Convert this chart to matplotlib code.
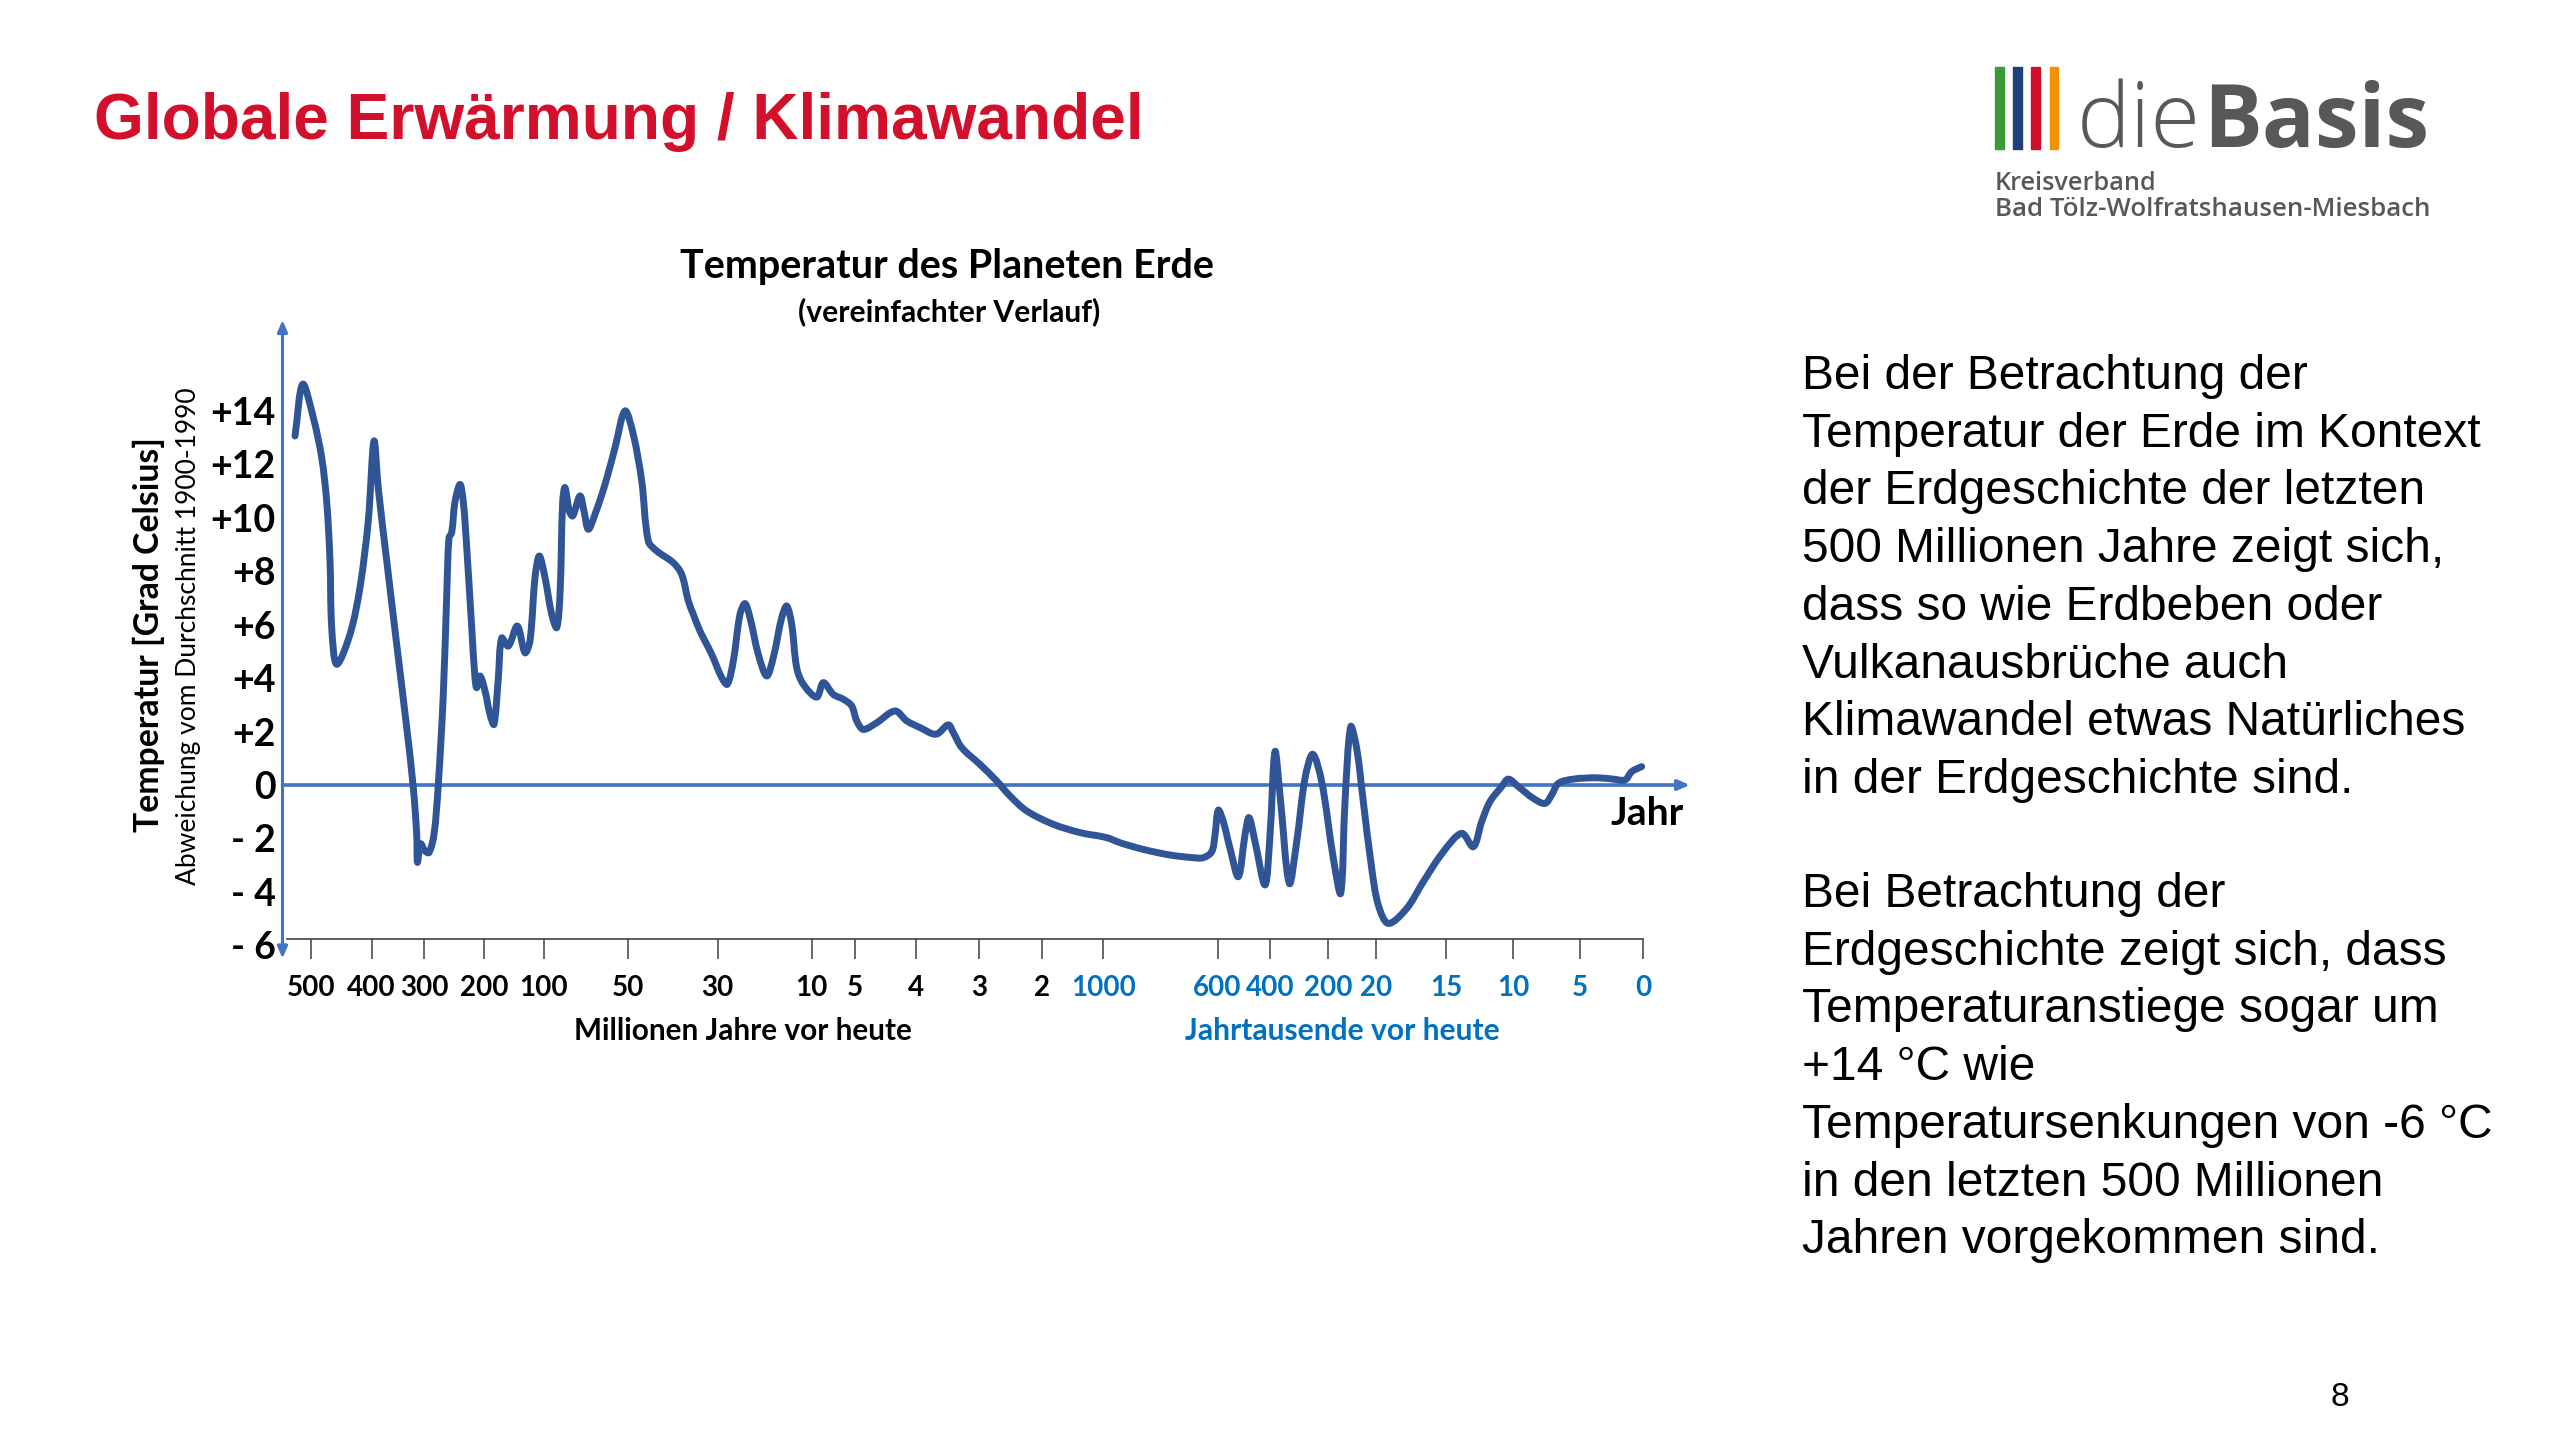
import matplotlib
matplotlib.use("Agg")
import numpy as np
import matplotlib.pyplot as plt
from matplotlib.patches import Rectangle, PathPatch
from matplotlib.path import Path

W, H, DPI = 2560, 1439, 100

# ---------------- data ----------------
# position along the (non-linear) time axis, and temperature deviation in degC
curve_pos = [295.0, 302.7, 313.3, 321.7, 326.7, 330.0, 331.7, 336.7, 350.0, 360.0,
             368.3, 374.0, 378.3, 386.7, 396.7, 406.7, 413.3, 416.7, 417.5, 420.5,
             425.0, 429.0, 434.0, 438.3, 443.3, 446.7, 449.0, 451.7, 455.0, 460.0,
             463.3, 466.7, 471.7, 475.0, 476.7, 480.0, 485.0, 490.0, 494.0, 498.3,
             501.7, 508.3, 517.3, 525.0, 530.0, 535.0, 539.3, 545.0, 551.7, 556.7,
             560.0, 562.7, 565.0, 569.3, 572.7, 580.0, 584.0, 588.3, 595.0, 605.0,
             615.0, 625.0, 633.3, 641.7, 648.3, 656.7, 673.3, 681.7, 688.3, 693.3,
             700.0, 711.7, 721.7, 727.3, 733.3, 740.0, 745.0, 750.0, 758.3, 766.7,
             773.3, 781.7, 786.7, 791.7, 796.7, 803.3, 816.7, 823.3, 833.3, 843.3,
             851.7, 856.7, 863.3, 876.7, 895.0, 906.7, 920.0, 936.0, 948.3, 953.3,
             961.7, 980.0, 996.7, 1010.0, 1026.7, 1053.3, 1080.0, 1106.7, 1120.0, 1143.3,
             1170.0, 1193.3, 1203.3, 1211.7, 1215.0, 1218.3, 1223.3, 1230.0, 1238.3, 1245.0,
             1249.0, 1255.0, 1265.0, 1270.0, 1275.0, 1280.0, 1289.3, 1296.7, 1305.0, 1312.7,
             1321.7, 1333.3, 1340.7, 1345.0, 1350.7, 1356.7, 1363.3, 1371.7, 1378.3, 1388.3,
             1406.7, 1423.3, 1443.3, 1461.7, 1473.3, 1481.7, 1490.0, 1501.7, 1508.3, 1518.3,
             1533.3, 1545.0, 1551.7, 1558.3, 1573.3, 1596.7, 1613.3, 1625.0, 1631.7, 1641.7]
curve_temp = [13.06, 15.0, 13.75, 12.25, 10.6, 8.4, 5.9, 4.52, 5.64, 7.4,
              9.9, 12.87, 11.1, 8.4, 5.26, 2.15, -0.1, -1.85, -2.9, -2.2,
              -2.47, -2.53, -1.85, 0.02, 3.4, 7.1, 9.25, 9.45, 10.6, 11.25,
              10.6, 8.9, 5.9, 4.0, 3.64, 4.08, 3.52, 2.64, 2.27, 4.0,
              5.5, 5.2, 5.95, 4.95, 5.4, 7.76, 8.57, 7.76, 6.39, 5.89,
              7.14, 10.63, 11.13, 10.25, 10.07, 10.82, 10.25, 9.57, 10.13, 11.25,
              12.62, 14.0, 13.12, 11.38, 9.13, 8.76, 8.32, 7.88, 6.89, 6.39,
              5.76, 4.89, 4.02, 3.77, 4.64, 6.39, 6.79, 6.26, 4.89, 4.08,
              4.77, 6.26, 6.7, 6.01, 4.39, 3.77, 3.29, 3.83, 3.39, 3.21,
              2.96, 2.4, 2.08, 2.33, 2.77, 2.4, 2.15, 1.9, 2.25, 1.96,
              1.4, 0.77, 0.15, -0.41, -0.97, -1.47, -1.78, -1.97, -2.16, -2.41,
              -2.62, -2.72, -2.72, -2.5, -1.87, -0.94, -1.37, -2.37, -3.43, -1.87,
              -1.22, -2.12, -3.74, -1.87, 1.25, -0.37, -3.68, -2.12, 0.25, 1.15,
              0.12, -2.74, -4.05, -0.62, 2.18, 1.37, -0.62, -3.12, -4.49, -5.18,
              -4.62, -3.62, -2.5, -1.81, -2.31, -1.37, -0.62, -0.06, 0.22, -0.06,
              -0.5, -0.69, -0.37, 0.06, 0.22, 0.27, 0.22, 0.19, 0.5, 0.69]

tick_pos = [310.7, 371.5, 424.3, 484.0, 543.7, 628.1, 717.7, 811.8, 854.9, 916.3,
            978.7, 1042.0, 1103.3, 1217.6, 1270.2, 1328.2, 1376.4, 1446.3, 1513.0, 1580.2,
            1643.1]
tick_labels = ["500", "400", "300", "200", "100", "50", "30", "10", "5", "4",
               "3", "2", "1000", "600", "400", "200", "20", "15", "10", "5", "0"]
tick_is_kyr = [False] * 12 + [True] * 9

y_values = [-6, -4, -2, 0, 2, 4, 6, 8, 10, 12, 14]
y_labels = ["- 6", "- 4", "- 2", "0", "+2", "+4", "+6", "+8", "+10", "+12", "+14"]

title = "Globale Erwärmung / Klimawandel"
chart_title = "Temperatur des Planeten Erde"
chart_subtitle = "(vereinfachter Verlauf)"
ylabel_main = "Temperatur [Grad Celsius]"
ylabel_sub = "Abweichung vom Durchschnitt 1900-1990"
xlabel_myr = "Millionen Jahre vor heute"
xlabel_kyr = "Jahrtausende vor heute"

body1 = ["Bei der Betrachtung der",
         "Temperatur der Erde im Kontext",
         "der Erdgeschichte der letzten",
         "500 Millionen Jahre zeigt sich,",
         "dass so wie Erdbeben oder",
         "Vulkanausbrüche auch",
         "Klimawandel etwas Natürliches",
         "in der Erdgeschichte sind."]
body2 = ["Bei Betrachtung der",
         "Erdgeschichte zeigt sich, dass",
         "Temperaturanstiege sogar um",
         "+14 °C wie",
         "Temperatursenkungen von -6 °C",
         "in den letzten 500 Millionen",
         "Jahren vorgekommen sind."]

# ---------------- styles ----------------
RED = "#D2102C"
CURVE = "#2F5597"
AXBLUE = "#4472C4"
LBLUE = "#0070C0"
GREY = "#58585A"

fig = plt.figure(figsize=(W / DPI, H / DPI), dpi=DPI)
fig.patch.set_facecolor("white")
renderer = fig.canvas.get_renderer()


def fx(px):
    return px / W


def fy(py):
    return 1 - py / H


def fit(t, target_w):
    rot = t.get_rotation()
    t.set_rotation(0)
    w = t.get_window_extent(renderer).width
    t.set_fontsize(t.get_fontsize() * target_w / w)
    t.set_rotation(rot)
    return t


# ---------------- axes ----------------
X0, X1 = 282.5, 1690.0
YTOP, YBOT = 320.0, 958.5
ZERO_PX, PX_PER_DEG = 785.0, 26.72
t_top = (ZERO_PX - YTOP) / PX_PER_DEG
t_bot = (ZERO_PX - YBOT) / PX_PER_DEG
base_t = (ZERO_PX - 938.5) / PX_PER_DEG

ax = fig.add_axes([fx(X0), fy(YBOT), (X1 - X0) / W, (YBOT - YTOP) / H])
ax.set_xlim(X0, X1)
ax.set_ylim(t_bot, t_top)
ax.patch.set_alpha(0)
for s in ["top", "right", "left"]:
    ax.spines[s].set_visible(False)
ax.spines["bottom"].set_position(("data", base_t))
ax.spines["bottom"].set_bounds(287, tick_pos[-1])
ax.spines["bottom"].set_color("#404040")
ax.spines["bottom"].set_linewidth(1.2)

ax.set_xticks(tick_pos, tick_labels)
ax.tick_params(axis="x", direction="out", length=14.5, width=1.1, color="#404040", pad=12)
for lab, kyr in zip(ax.get_xticklabels(), tick_is_kyr):
    lab.set_fontfamily("Lato")
    lab.set_fontweight("bold")
    lab.set_fontsize(20)
    lab.set_color(LBLUE if kyr else "black")

ax.set_yticks(y_values, y_labels)
ax.tick_params(axis="y", length=0, pad=5)
for lab in ax.get_yticklabels():
    lab.set_fontfamily("Lato")
    lab.set_fontweight("bold")
    lab.set_fontsize(27)
    lab.set_color("black")

# axis arrows
ax.annotate("", xy=(X0, t_top), xytext=(X0, t_bot),
            arrowprops=dict(arrowstyle="<|-|>,head_length=0.7,head_width=0.3",
                            color=AXBLUE, lw=2.2, shrinkA=0, shrinkB=0),
            annotation_clip=False)
ax.annotate("", xy=(X1, 0), xytext=(X0, 0),
            arrowprops=dict(arrowstyle="-|>,head_length=0.7,head_width=0.3",
                            color=AXBLUE, lw=2.6, shrinkA=0, shrinkB=0),
            annotation_clip=False)

# smooth curve through the read points (cubic Bezier segments, drawn in data coords)
P = np.column_stack([curve_pos, curve_temp]).astype(float)
scale = np.array([1.0, PX_PER_DEG])
seg = np.hypot(*(np.diff(P, axis=0) * scale).T)
n = len(P)
verts = [P[0]]
codes = [Path.MOVETO]
for i in range(n - 1):
    if i == 0:
        c1 = P[0] + (P[1] - P[0]) / 3
    else:
        c1 = P[i] + (P[i + 1] - P[i - 1]) * seg[i] / (3 * (seg[i - 1] + seg[i]))
    if i == n - 2:
        c2 = P[i + 1] - (P[i + 1] - P[i]) / 3
    else:
        c2 = P[i + 1] - (P[i + 2] - P[i]) * seg[i] / (3 * (seg[i] + seg[i + 1]))
    verts += [c1, c2, P[i + 1]]
    codes += [Path.CURVE4] * 3
ax.add_patch(PathPatch(Path(verts, codes), fill=False, edgecolor=CURVE, lw=5,
                       joinstyle="round", capstyle="round", clip_on=False, zorder=5))

# ---------------- texts ----------------
t = fig.text(fx(94), fy(139.5), title, fontfamily="Liberation Sans", fontweight="bold",
             color=RED, fontsize=46, ha="left", va="baseline")
fit(t, 1050)

t = fig.text(fx(947), fy(278), chart_title, fontfamily="Lato", fontweight="bold",
             color="black", fontsize=26, ha="center", va="baseline")
fit(t, 535)
t = fig.text(fx(949), fy(321), chart_subtitle, fontfamily="Lato", fontweight="bold",
             color="black", fontsize=18, ha="center", va="baseline")
fit(t, 302)

t = fig.text(fx(149), fy(635), ylabel_main, fontfamily="Lato", fontweight="bold",
             color="black", fontsize=22, ha="center", va="center", rotation=90)
fit(t, 395)
t = fig.text(fx(189), fy(636), ylabel_sub, fontfamily="Lato",
             color="black", fontsize=16, ha="center", va="center", rotation=90)
fit(t, 498)

t = fig.text(fx(1647), fy(825), "Jahr", fontfamily="Lato", fontweight="bold",
             color="black", fontsize=28, ha="center", va="baseline")
fit(t, 73)

t = fig.text(fx(743), fy(1040), xlabel_myr, fontfamily="Lato", fontweight="bold",
             color="black", fontsize=20, ha="center", va="baseline")
fit(t, 338)
t = fig.text(fx(1342), fy(1040), xlabel_kyr, fontfamily="Lato", fontweight="bold",
             color=LBLUE, fontsize=20, ha="center", va="baseline")
fit(t, 315)

# body text
probe = fig.text(0, 0, body1[1], fontfamily="Liberation Sans", fontsize=34)
fit(probe, 678)
body_fs = probe.get_fontsize()
probe.remove()
for i, line in enumerate(body1):
    fig.text(fx(1802), fy(389 + i * 57.7), line, fontfamily="Liberation Sans",
             fontsize=body_fs, color="black", ha="left", va="baseline")
for i, line in enumerate(body2):
    fig.text(fx(1802), fy(907 + i * 57.7), line, fontfamily="Liberation Sans",
             fontsize=body_fs, color="black", ha="left", va="baseline")

fig.text(fx(2340), fy(1397), "8", fontfamily="Liberation Sans", fontsize=24,
         color="black", ha="center", va="center")

# ---------------- logo ----------------
bar_colors = ["#3A9A36", "#1F3F7A", "#D2102C", "#F39200"]
for i, c in enumerate(bar_colors):
    fig.patches.append(Rectangle((fx(1995 + i * 18.2), fy(149)), 8.8 / W, 82 / H,
                                 transform=fig.transFigure, color=c, figure=fig))
t1 = fig.text(fx(2077), fy(147), "die", fontfamily="Open Sans", fontweight="light",
              color=GREY, fontsize=60, ha="left", va="baseline")
fit(t1, 124)
t2 = fig.text(fx(2203), fy(147), "Basis", fontfamily="Open Sans", fontweight="bold",
              color=GREY, fontsize=60, ha="left", va="baseline")
fit(t2, 226)
t = fig.text(fx(1995), fy(190), "Kreisverband", fontfamily="Open Sans", fontweight="semibold",
             color=GREY, fontsize=18, ha="left", va="baseline")
fit(t, 162)
t = fig.text(fx(1995), fy(216), "Bad Tölz-Wolfratshausen-Miesbach", fontfamily="Open Sans",
             fontweight="semibold", color=GREY, fontsize=18, ha="left", va="baseline")
fit(t, 436)

fig.savefig("out.png", dpi=DPI, facecolor="white")
